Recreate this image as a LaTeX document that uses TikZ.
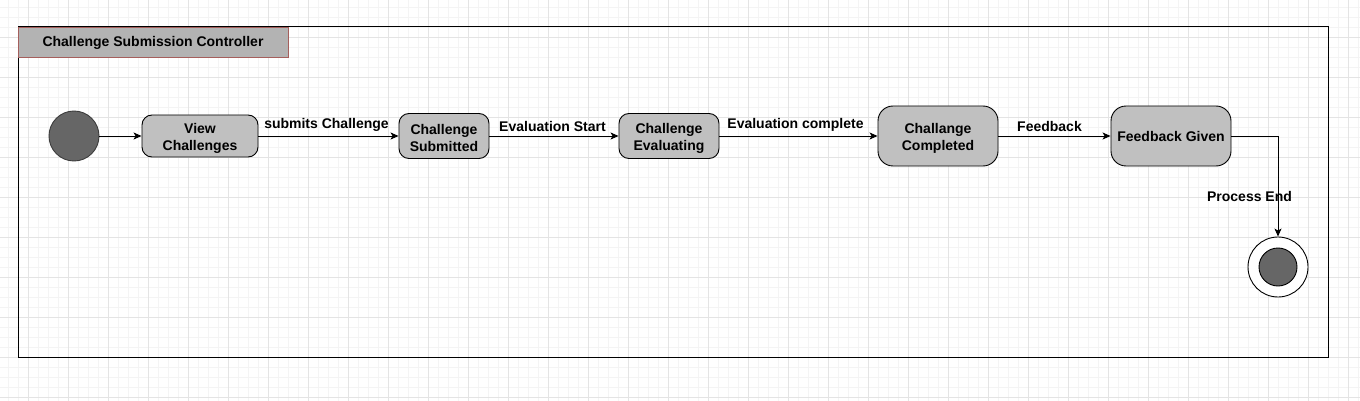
\documentclass[tikz,border=0pt]{standalone}
\usepackage{fontspec}
\setmainfont{Liberation Sans}
\usepackage{tikz}
\usetikzlibrary{positioning,arrows.meta,calc}
\definecolor{gridminor}{RGB}{244,244,244}
\definecolor{gridmajor}{RGB}{228,228,228}
\definecolor{statefill}{RGB}{192,192,192}
\definecolor{dotfill}{RGB}{102,102,102}
\definecolor{dotdraw}{RGB}{60,60,60}
\definecolor{titlefill}{RGB}{179,179,179}
\definecolor{titledraw}{RGB}{165,95,92}
\newcommand{\twolines}[2]{\rule{0pt}{14pt}#1\\#2}
\tikzset{
  txt/.style={font=\bfseries\fontsize{14}{17}\selectfont, text=black},
  state/.style={txt, rounded corners=10pt, draw=black, line width=0.9pt, fill=statefill,
                align=center, inner sep=0pt},
  initstate/.style={circle, draw=dotdraw, line width=0.9pt, fill=dotfill,
                    minimum size=50pt, inner sep=0pt},
  finalstate/.style={circle, draw=black, line width=0.9pt, fill=white,
                     minimum size=60pt, inner sep=0pt},
  finaldot/.style={circle, draw=black, line width=0.9pt, fill=dotfill,
                   minimum size=38pt, inner sep=0pt},
  frame/.style={draw=black, line width=1pt},
  titlebox/.style={txt, draw=titledraw, line width=0.8pt, fill=titlefill,
                   minimum width=270pt, minimum height=30pt, inner sep=0pt,
                   text height=10pt, text depth=0pt},
  trans/.style={-{Stealth[length=8pt, width=7pt, inset=2pt]}, line width=0.9pt, black},
  lbl/.style={txt, inner sep=0pt, anchor=base}
}
\begin{document}
\begin{tikzpicture}[x=1pt, y=-1pt]
\useasboundingbox (0,0) rectangle (1360,401);
% background grid
\foreach \x in {8,18,...,1358} \draw[gridminor, line width=0.8pt] (\x,0) -- (\x,401);
\foreach \y in {7,17,...,397} \draw[gridminor, line width=0.8pt] (0,\y) -- (1360,\y);
\foreach \x in {28,68,...,1348} \draw[gridmajor, line width=0.8pt] (\x,0) -- (\x,401);
\foreach \y in {37,77,...,397} \draw[gridmajor, line width=0.8pt] (0,\y) -- (1360,\y);
% controller frame
\draw[frame] (18,27) rectangle (1328,357);
\node[titlebox] (title) at (153,42) {Challenge Submission Controller};
% states
\node[initstate] (init) at (74,136) {};
\node[state, minimum width=116pt, minimum height=42pt] (view) at (200,136) {\twolines{View}{Challenges}};
\node[state, minimum width=90pt, minimum height=45pt] (subm) at (444,136) {\twolines{Challenge}{Submitted}};
\node[state, minimum width=100pt, minimum height=45pt] (eval) at (669,136) {\twolines{Challenge}{Evaluating}};
\node[state, minimum width=120pt, minimum height=60pt, rounded corners=15pt] (compl) at (938,136) {\twolines{Challange}{Completed}};
\node[state, minimum width=120pt, minimum height=60pt, rounded corners=15pt] (fbgiven) at (1171,136) {Feedback Given};
\node[finalstate] (fin) at (1278,267) {};
\node[finaldot] (findot) at (fin.center) {};
% transitions
\draw[trans] (init) -- (view);
\draw[trans] (view) -- node[lbl, xshift=-2pt, yshift=7pt] {submits Challenge} (subm);
\draw[trans] (subm) -- node[lbl, xshift=-1.5pt, yshift=4.7pt] {Evaluation Start} (eval);
\draw[trans] (eval) -- node[lbl, xshift=-3pt, yshift=7.7pt] {Evaluation complete} (compl);
\draw[trans] (compl) -- node[lbl, xshift=-5pt, yshift=4.7pt] {Feedback} (fbgiven);
\draw[trans] (fbgiven.east) -| node[lbl, pos=0.5, xshift=-28.5pt, yshift=-65.7pt] {Process End} (fin.north);
\end{tikzpicture}
\end{document}
